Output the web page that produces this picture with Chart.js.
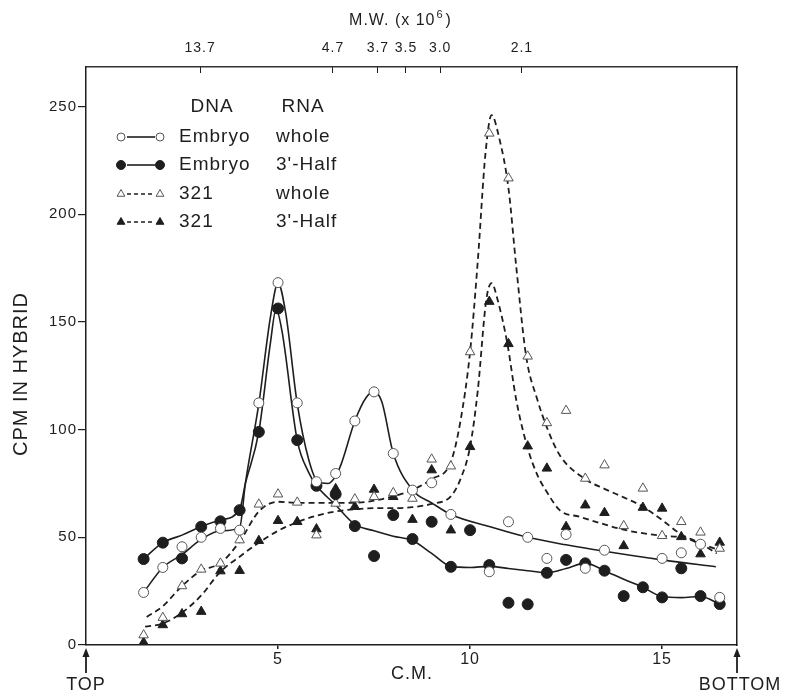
<!DOCTYPE html>
<html>
<head>
<meta charset="utf-8">
<title>CPM in hybrid across the gradient</title>
<script src="https://cdn.jsdelivr.net/npm/chart.js@4.4.0/dist/chart.umd.min.js"></script>
<style>
  html, body { margin: 0; padding: 0; background: #fff; }
  #wrap { width: 795px; height: 695px; }
</style>
</head>
<body>
<div id="wrap"><canvas id="chart" width="795" height="695"></canvas></div>
<script>
// fractions, C.M. from the top of the gradient
var cm = [1.5, 2, 2.5, 3, 3.5, 4, 4.5, 5, 5.5, 6, 6.5, 7, 7.5, 8, 8.5, 9, 9.5, 10,
          10.5, 11, 11.5, 12, 12.5, 13, 13.5, 14, 14.5, 15, 15.5, 16, 16.5];

// measured CPM per fraction
var embryoWhole = [24.4, 36, 45.6, 50, 54.1, 53.3, 112.4, 168.2, 112.4, 75.8, 79.6, 104, 117.5, 88.9, 71.9, 75.3, 60.6, null,
                   34, 57.2, 50, 40.2, 51.3, 35.6, 44, null, null, 40.2, 42.8, 46.8, 22.1];
var embryoHalf  = [39.9, 47.5, 40.2, 54.9, 57.4, 62.6, 98.9, 156.2, 95.1, 73.9, 70, 55.2, 41.3, 60.3, 49.2, 57.2, 36.3, 53.3,
                   37.1, 19.6, 18.9, 33.5, 39.5, 37.9, 34.5, 22.7, 26.8, 22.1, 35.6, 22.7, 19];
var whole321    = [4.6, 12.7, 27.4, 35.1, 37.9, 48.7, 65.3, 70, 66.2, 51, 65.7, 67.7, 68.8, 70.6, 68, 86.2, 83, 136,
                   237.5, 216.7, 134, 103.1, 108.8, 77.3, 83.5, 55.3, 72.7, 50.7, 57.2, 52.3, 44.8];
var half321     = [1.2, 9.3, 14.4, 15.5, 34.3, 34.5, 48.4, 57.7, 57.2, 53.8, 72.5, 64.2, 72.2, 68.8, 58.2, 81.2, 53.3, 92,
                   159.4, 139.8, 92.3, 82, 54.9, 64.9, 61.4, 46, 63.8, 63.4, 50.2, 42.2, 47.6];

// hand-drawn smooth curves through each profile
var embryoWholeCurveX = [1.5, 2, 2.5, 3, 3.5, 4, 4.15, 4.5, 4.8, 5, 5.2, 5.5, 5.8, 6.05, 6.3, 6.6, 7, 7.3, 7.5, 7.7, 8, 8.5, 9, 9.5, 10.5, 11.5, 12.5, 13.5, 15, 16.4];
var embryoWholeCurveY = [24.4, 36, 42, 49, 53, 54.5, 75, 112, 152, 168, 154, 112, 86, 75.5, 75, 82, 104, 115, 117.5, 113, 89, 72, 66, 60.6, 55, 50, 46.5, 43.5, 39.5, 36.3];

var embryoHalfCurveX = [1.5, 2, 2.5, 3, 3.5, 4, 4.15, 4.5, 4.8, 4.95, 5.1, 5.5, 5.8, 6, 6.5, 7, 7.5, 8, 8.5, 9, 9.5, 10, 10.5, 11, 11.5, 12, 12.5, 13, 13.5, 14, 14.5, 15, 15.5, 16, 16.5];
var embryoHalfCurveY = [40, 47.5, 51, 55, 58, 63, 75, 99, 140, 156, 146, 95, 80, 74, 65, 56, 53, 50.5, 48.5, 42.5, 36.5, 36, 36.5, 35.5, 34.5, 33.5, 35.5, 38, 34.5, 30.5, 26.8, 22.5, 22, 22.5, 19];

var whole321CurveX = [1.58, 2, 2.5, 3, 3.5, 4, 4.5, 5, 5.5, 6, 6.5, 7, 7.5, 8, 8.5, 9, 9.5, 9.75, 10, 10.2, 10.4, 10.56, 10.75, 11, 11.2, 11.46, 11.75, 12, 12.34, 13, 13.5, 14, 14.5, 15, 15.5, 16, 16.42];
var whole321CurveY = [13, 18, 27.4, 34.5, 38, 48, 62, 66.5, 66, 66, 66, 66, 67, 69, 72, 77, 85, 104, 136, 178, 228, 246, 236, 212, 176, 134, 114, 101, 88, 77, 72.5, 68.5, 64.2, 58, 51.3, 47.2, 42.5];

var half321CurveX = [1.54, 2, 2.5, 3, 3.5, 4, 4.5, 5, 5.5, 6, 6.5, 7, 7.5, 8, 8.5, 9, 9.5, 9.75, 10, 10.2, 10.42, 10.56, 10.72, 10.97, 11.2, 11.49, 11.75, 12, 12.34, 12.86, 13.5, 14, 15, 15.5, 16, 16.49];
var half321CurveY = [8.5, 10, 15, 23, 34, 41, 47.5, 53, 57, 60, 62, 63, 63.5, 63.5, 64, 65.5, 69, 77, 92, 118, 160, 168, 160, 140, 114, 92, 79, 71, 62.5, 59.5, 56, 53.5, 50.7, 50, 47, 44];

// axis ticks
var cmTicks = [5, 10, 15];
var cpmTicks = [0, 50, 100, 150, 200, 250];
var mwPos = [2.97, 6.43, 7.6, 8.33, 9.22, 11.35];
var mwLabels = ['13.7', '4.7', '3.7', '3.5', '3.0', '2.1'];

// legend text
var legendHead = ['DNA', 'RNA'];
var legendDNA = ['Embryo', 'Embryo', '321', '321'];
var legendRNA = ['whole', "3'-Half", 'whole', "3'-Half"];

var ink = '#1e1e1e';
var soft = '#555';
var family = '"Liberation Sans", Arial, Helvetica, sans-serif';

function pts(vals) {
  return cm.map(function (x, i) { return { x: x, y: vals[i] }; });
}
function curve(xs, ys) {
  return xs.map(function (x, i) { return { x: x, y: ys[i] }; });
}

var markers = [
  { style: 'circle', radius: 5, fill: '#fff', stroke: soft },
  { style: 'circle', radius: 5.5, fill: ink, stroke: ink },
  { style: 'triangle', radius: 5.5, fill: '#fff', stroke: soft },
  { style: 'triangle', radius: 5.5, fill: ink, stroke: ink }
];

function pointSet(label, vals, m) {
  return {
    label: label, data: pts(vals), showLine: false, order: 0,
    pointStyle: m.style, pointRadius: m.radius,
    pointBackgroundColor: m.fill, pointBorderColor: m.stroke, pointBorderWidth: 1
  };
}
function curveSet(xs, ys, dash) {
  return {
    data: curve(xs, ys), showLine: true, order: 1, pointRadius: 0,
    borderColor: ink, borderWidth: dash ? 1.8 : 1.6, borderDash: dash ? [6, 4] : [],
    cubicInterpolationMode: 'monotone', tension: 0.4, fill: false
  };
}

// text around the frame + the two-column legend
var decor = {
  id: 'decor',
  beforeDraw: function (chart) {
    chart.ctx.letterSpacing = '1px';
  },
  afterDraw: function (chart) {
    var ctx = chart.ctx, area = chart.chartArea;
    ctx.save();
    ctx.letterSpacing = '1px';
    ctx.fillStyle = ink;
    ctx.strokeStyle = ink;

    // y title
    ctx.save();
    ctx.translate(21, 374);
    ctx.rotate(-Math.PI / 2);
    ctx.font = '20px ' + family;
    ctx.textAlign = 'center';
    ctx.textBaseline = 'middle';
    ctx.fillText('CPM IN HYBRID', 0, 0);
    ctx.restore();

    // top title with superscript
    ctx.textBaseline = 'alphabetic';
    ctx.textAlign = 'left';
    ctx.font = '16px ' + family;
    var a = 'M.W. (x 10', c = ')';
    var wa = ctx.measureText(a).width, wc = ctx.measureText(c).width;
    ctx.font = '11px ' + family;
    var wb = ctx.measureText('6').width;
    var x0 = 400 - (wa + wb + 2 + wc) / 2;
    ctx.font = '16px ' + family;
    ctx.fillText(a, x0, 25);
    ctx.font = '11px ' + family;
    ctx.fillText('6', x0 + wa + 1, 18);
    ctx.font = '16px ' + family;
    ctx.fillText(c, x0 + wa + wb + 3, 25);

    // bottom title and ends of the gradient
    ctx.textAlign = 'center';
    ctx.textBaseline = 'middle';
    ctx.font = '18px ' + family;
    ctx.fillText('C.M.', 412, 674);
    ctx.fillText('TOP', area.left, 685);
    ctx.fillText('BOTTOM', area.right + 3, 685);
    [area.left, area.right].forEach(function (x) {
      ctx.lineWidth = 1.8;
      ctx.beginPath();
      ctx.moveTo(x, 673);
      ctx.lineTo(x, 655);
      ctx.stroke();
      ctx.beginPath();
      ctx.moveTo(x, 648);
      ctx.lineTo(x - 3.5, 657);
      ctx.lineTo(x + 3.5, 657);
      ctx.closePath();
      ctx.fill();
    });

    // legend
    ctx.font = '19px ' + family;
    ctx.textAlign = 'center';
    ctx.fillText(legendHead[0], 212, 107);
    ctx.fillText(legendHead[1], 303, 107);
    var rows = [137, 165, 194, 222];
    ctx.textAlign = 'left';
    rows.forEach(function (y, i) {
      var m = markers[i];
      ctx.save();
      ctx.strokeStyle = ink;
      ctx.lineWidth = 1.6;
      ctx.setLineDash(i < 2 ? [] : [4, 3]);
      ctx.beginPath();
      ctx.moveTo(127, y);
      ctx.lineTo(155, y);
      ctx.stroke();
      ctx.setLineDash([]);
      [121, 160].forEach(function (x) {
        ctx.fillStyle = m.fill;
        ctx.strokeStyle = m.stroke;
        ctx.lineWidth = 1;
        Chart.helpers.drawPoint(ctx, { pointStyle: m.style, radius: m.radius - 1, rotation: 0, borderWidth: 1 }, x, y);
      });
      ctx.restore();
      ctx.fillStyle = ink;
      ctx.fillText(legendDNA[i], 179, y);
      ctx.fillText(legendRNA[i], 276, y);
    });
    ctx.restore();
  }
};

var tickFont = { family: family, size: 15 };

new Chart(document.getElementById('chart'), {
  type: 'scatter',
  data: {
    datasets: [
      pointSet('Embryo whole', embryoWhole, markers[0]),
      pointSet("Embryo 3'-Half", embryoHalf, markers[1]),
      pointSet('321 whole', whole321, markers[2]),
      pointSet("321 3'-Half", half321, markers[3]),
      curveSet(embryoWholeCurveX, embryoWholeCurveY, false),
      curveSet(embryoHalfCurveX, embryoHalfCurveY, false),
      curveSet(whole321CurveX, whole321CurveY, true),
      curveSet(half321CurveX, half321CurveY, true)
    ]
  },
  options: {
    responsive: false,
    animation: false,
    devicePixelRatio: 1,
    events: [],
    layout: { padding: 0, autoPadding: false },
    plugins: { legend: { display: false }, tooltip: { enabled: false } },
    scales: {
      x: {
        type: 'linear', position: 'bottom', min: 0, max: 16.95,
        afterBuildTicks: function (s) { s.ticks = cmTicks.map(function (v) { return { value: v }; }); },
        afterFit: function (s) { s.height = 50; },
        grid: { drawOnChartArea: false, tickLength: 4, color: ink, lineWidth: 1.5 },
        border: { display: true, color: ink, width: 1.5 },
        ticks: { color: ink, font: { family: family, size: 16 }, padding: 1, maxRotation: 0, autoSkip: false,
                 callback: function (v) { return String(v); } }
      },
      mw: {
        type: 'linear', position: 'top', min: 0, max: 16.95,
        afterBuildTicks: function (s) { s.ticks = mwPos.map(function (v) { return { value: v }; }); },
        afterFit: function (s) { s.height = 67; },
        grid: { drawOnChartArea: false, tickLength: -6, color: ink, lineWidth: 1 },
        border: { display: true, color: '#333', width: 1.5, dash: [16, 5] },
        ticks: { color: ink, font: { family: family, size: 14 }, padding: 16, maxRotation: 0, autoSkip: false,
                 callback: function (v, i) { return mwLabels[i]; } }
      },
      y: {
        type: 'linear', position: 'left', min: 0, max: 268.3,
        afterBuildTicks: function (s) { s.ticks = cpmTicks.map(function (v) { return { value: v }; }); },
        afterFit: function (s) { s.width = 86; },
        grid: { drawOnChartArea: false, tickLength: 8, color: ink, lineWidth: 1.2 },
        border: { display: true, color: ink, width: 1.5 },
        ticks: { color: ink, font: tickFont, padding: 1, autoSkip: false,
                 callback: function (v) { return String(v); } }
      },
      frame: {
        type: 'linear', position: 'right', min: 0, max: 268.3,
        afterFit: function (s) { s.width = 58; },
        grid: { display: false },
        border: { display: true, color: ink, width: 1.5 },
        ticks: { display: false }
      }
    }
  },
  plugins: [decor]
});
</script>
</body>
</html>
